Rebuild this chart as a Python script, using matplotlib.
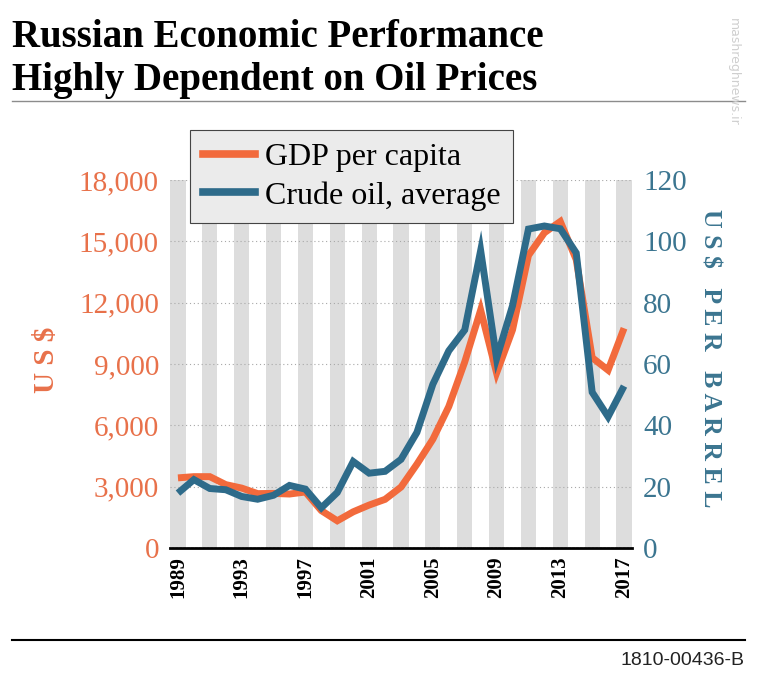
import matplotlib
matplotlib.use('Agg')
import matplotlib.pyplot as plt
from matplotlib.lines import Line2D
from matplotlib.ticker import FuncFormatter

plt.rcParams['font.family'] = ['Liberation Serif', 'DejaVu Serif']

# data
years = list(range(1989, 2018))
gdp_per_capita = [3430, 3490, 3490, 3100, 2930, 2660, 2670, 2640, 2740, 1830,
                  1330, 1770, 2100, 2380, 2980, 4100, 5320, 6920, 9100, 11640,
                  8560, 10670, 14310, 15420, 15970, 14100, 9310, 8700, 10750]
oil_price = [17.9, 22.3, 19.4, 19.0, 16.8, 15.9, 17.2, 20.4, 19.2, 13.1,
             18.1, 28.2, 24.4, 25.0, 28.9, 37.7, 53.4, 64.3, 71.1, 97.0,
             61.8, 79.0, 104.0, 105.0, 104.1, 96.2, 50.8, 42.8, 52.8]
stripe_years = years[::2]
xtick_years = [1989, 1993, 1997, 2001, 2005, 2009, 2013, 2017]
gdp_ticks = [0, 3000, 6000, 9000, 12000, 15000, 18000]
oil_ticks = [0, 20, 40, 60, 80, 100, 120]

ORANGE = '#f26a3c'
ORANGE_TXT = '#e8714a'
TEAL = '#2e6b8a'
TEAL_TXT = '#3b7590'

W, H = 757, 682
fig = plt.figure(figsize=(W / 100, H / 100), dpi=100)
fig.patch.set_facecolor('white')

ax = fig.add_axes([170 / W, 1 - 548 / H, 462 / W, 368 / H])
ax.bar(stripe_years, [gdp_ticks[-1]] * len(stripe_years), width=0.95,
       color='#dddddd', zorder=0)
ax.plot(years, gdp_per_capita, color=ORANGE, lw=5, solid_capstyle='butt',
        solid_joinstyle='miter', zorder=3)
ax.set_xlim(1988.5, 2017.5)
ax.set_ylim(0, 18000)
ax.set_yticks(gdp_ticks)
ax.yaxis.set_major_formatter(FuncFormatter(lambda v, p: f'{int(v):,}'))
ax.set_xticks(xtick_years)
ax.set_xticklabels([str(y) for y in xtick_years], rotation=90,
                   fontweight='bold', fontsize=15)
ax.tick_params(axis='x', length=0, pad=6)
ax.tick_params(axis='y', length=0, pad=8, labelsize=21, labelcolor=ORANGE_TXT)
ax.set_axisbelow(False)
ax.yaxis.grid(True, linestyle=(0, (1, 2.5)), color='#a8a8a8', lw=0.8)
for s in ['left', 'right', 'top']:
    ax.spines[s].set_visible(False)
ax.spines['bottom'].set_linewidth(2)
ax.spines['bottom'].set_color('black')

ax2 = ax.twinx()
ax2.plot(years, oil_price, color=TEAL, lw=5, solid_capstyle='butt',
         solid_joinstyle='miter', zorder=3)
ax2.set_ylim(0, 120)
ax2.set_yticks(oil_ticks)
ax2.tick_params(axis='y', length=0, pad=8, labelsize=21, labelcolor=TEAL_TXT)
for s in ['left', 'right', 'top', 'bottom']:
    ax2.spines[s].set_visible(False)

handles = [Line2D([], [], color=ORANGE, lw=5.5), Line2D([], [], color=TEAL, lw=5.5)]
leg = fig.legend(handles, ['GDP per capita', 'Crude oil, average'],
                 loc='upper left', bbox_to_anchor=(190 / W, 1 - 130 / H),
                 bbox_transform=fig.transFigure, borderaxespad=0,
                 fontsize=23, frameon=True, fancybox=False, framealpha=1,
                 facecolor='#ebebeb', edgecolor='#444444', borderpad=0.4,
                 labelspacing=0.28, handlelength=1.65, handletextpad=0.3)
leg.get_frame().set_linewidth(0.8)

# axis titles
fig.text(46 / W, 1 - 360 / H, 'U S $', rotation=90, color=ORANGE_TXT,
         fontsize=21, fontweight='bold', ha='center', va='center')
fig.text(710 / W, 1 - 358 / H, 'U S $   P E R   B A R R E L', rotation=270,
         color=TEAL_TXT, fontsize=18.5, fontweight='bold', ha='center', va='center')

# title
fig.text(12 / W, 1 - 47 / H, 'Russian Economic Performance', fontsize=28,
         fontweight='bold', va='baseline', ha='left')
fig.text(12 / W, 1 - 90 / H, 'Highly Dependent on Oil Prices', fontsize=28,
         fontweight='bold', va='baseline', ha='left')
fig.add_artist(Line2D([12 / W, 745 / W], [1 - 101 / H, 1 - 101 / H],
                      color='#8c8c8c', lw=1, transform=fig.transFigure))

# footer
fig.add_artist(Line2D([12 / W, 745 / W], [1 - 640 / H, 1 - 640 / H],
                      color='black', lw=1.5, transform=fig.transFigure))
fig.text(744 / W, 1 - 665 / H, '1810-00436-B', fontsize=14,
         family='Liberation Sans', color='#222222', ha='right', va='baseline')

# faint watermark
fig.text(733 / W, 1 - 18 / H, 'mashreghnews.ir', rotation=270, fontsize=9,
         family='DejaVu Sans', color='#cfcfcf', ha='center', va='top')

fig.savefig('out.png', dpi=100)
